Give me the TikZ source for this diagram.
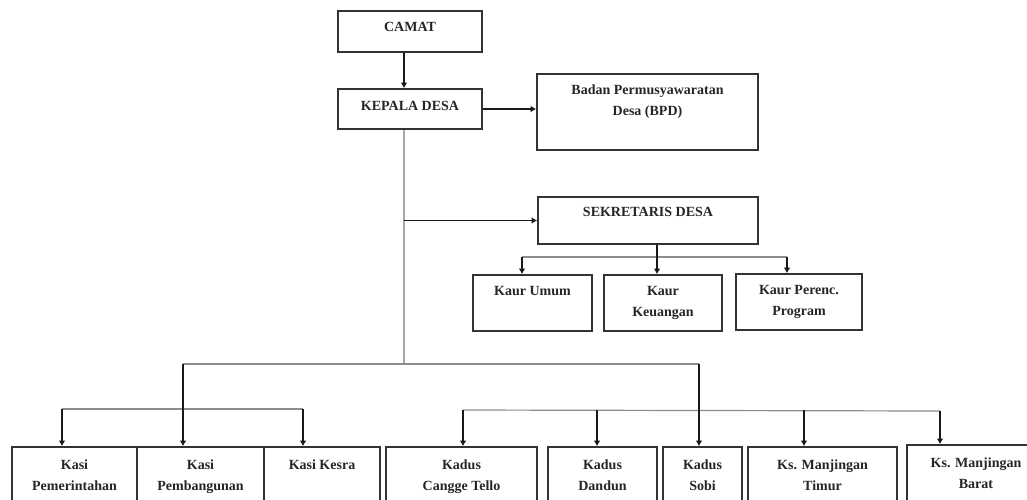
\documentclass[tikz,border=0pt]{standalone}
\usepackage{fontspec}
\setmainfont{Liberation Serif}
\usetikzlibrary{arrows.meta}

% unit box: name, x1, y1, x2, y2, text offset from top, text
\newcommand\orgunit[7]{%
  \node[unitbox, minimum width={(#4)-(#2)}, minimum height={(#5)-(#3)}]
    (#1) at ({((#2)+(#4))/2},{((#3)+(#5))/2}) {};
  \node[unitlbl] (#1-t) at ([yshift=-#6pt]#1.north) {#7};
}

\begin{document}
\begin{tikzpicture}[x=1pt,y=-1pt,
  unitbox/.style={draw=black!80, line width=1.6pt, inner sep=0pt, fill=white},
  unitlbl/.style={font=\bfseries\fontsize{14}{21}\selectfont, align=center,
                  anchor=north, inner sep=0pt, text=black!85},
  feed/.style={draw=black!35, line width=1.6pt},
  rail/.style={draw=black!45, line width=1.2pt},
  arr/.style={draw=black!90, line width=1.5pt, -{Latex[length=5.5pt,width=6.5pt]}},
  arrthin/.style={draw=black!90, line width=1.2pt, -{Latex[length=5.5pt,width=6.5pt]}},
]
\clip (0,0) rectangle (1027,499);
\fill[white] (0,0) rectangle (1027,499);

% top of the hierarchy
\orgunit{camat}{338}{11}{482}{52}{11.5}{CAMAT}
\orgunit{kades}{338}{89}{482}{129}{12.5}{KEPALA DESA}
\orgunit{bpd}{537}{74}{758}{150}{11.5}{Badan Permusyawaratan\\Desa (BPD)}
\orgunit{sekdes}{538}{197}{758}{244}{11}{SEKRETARIS DESA}

% secretariat
\orgunit{kumum}{473}{275}{592}{331}{12}{Kaur Umum}
\orgunit{kkeu}{604}{275}{722}{331}{12}{Kaur\\Keuangan}
\orgunit{kprog}{736}{274}{862}{330}{12}{Kaur Perenc.\\Program}

% sections and hamlets
\orgunit{kpem}{12}{447}{137}{530}{13.5}{Kasi\\Pemerintahan}
\orgunit{kpemb}{137}{447}{264}{530}{13.5}{Kasi\\Pembangunan}
\orgunit{kkesra}{264}{447}{380}{530}{13.5}{Kasi Kesra}
\orgunit{dcangge}{386}{447}{537}{530}{13.5}{Kadus\\Cangge Tello}
\orgunit{ddandun}{548}{447}{657}{530}{13.5}{Kadus\\Dandun}
\orgunit{dsobi}{663}{447}{742}{530}{13.5}{Kadus\\Sobi}
\orgunit{dtimur}{748}{447}{897}{530}{13.5}{Ks. Manjingan\\Timur}
\orgunit{dbarat}{907}{445}{1045}{530}{13.5}{Ks. Manjingan\\Barat}

% routing points
\coordinate (trunk) at (404,0);
\coordinate (jlow) at (404,364);
\coordinate (bl) at (183,364);
\coordinate (br) at (699,364);
\coordinate (sdrop) at (657,0);
\coordinate (kl) at (522,257);
\coordinate (kr) at (787,257);
\coordinate (ll) at (62,409);
\coordinate (lr) at (303,409);
\coordinate (rl) at (463,410);
\coordinate (rdandun) at (597,410);
\coordinate (rtimur) at (804,410);
\coordinate (rr) at (940,411);

% main line
\draw[arr] (camat.south -| trunk) -- (kades.north -| trunk);
\draw[arr] (kades.east) -- (kades.east -| bpd.west);
\draw[feed] (kades.south -| trunk) -- (jlow);
\draw[arr] (sekdes.west -| trunk) -- (sekdes.west);

% secretariat branches
\draw[rail] (kl) -- (kr);
\draw[arr] (sekdes.south -| sdrop) -- (kkeu.north -| sdrop);
\draw[arrthin] (kl) -- (kumum.north -| kl);
\draw[arrthin] (kr) -- (kprog.north -| kr);

% lower branches
\draw[rail] (bl) -- (br);
\draw[rail] (ll) -- (lr);
\draw[rail] (rl) -- (rr);
\draw[arr] (bl) -- (kpemb.north -| bl);
\draw[arr] (br) -- (dsobi.north -| br);
\draw[arr] (ll) -- (kpem.north -| ll);
\draw[arr] (lr) -- (kkesra.north -| lr);
\draw[arr] (rl) -- (dcangge.north -| rl);
\draw[arr] (rdandun) -- (ddandun.north -| rdandun);
\draw[arr] (rtimur) -- (dtimur.north -| rtimur);
\draw[arrthin] (rr) -- (dbarat.north -| rr);
\end{tikzpicture}
\end{document}
